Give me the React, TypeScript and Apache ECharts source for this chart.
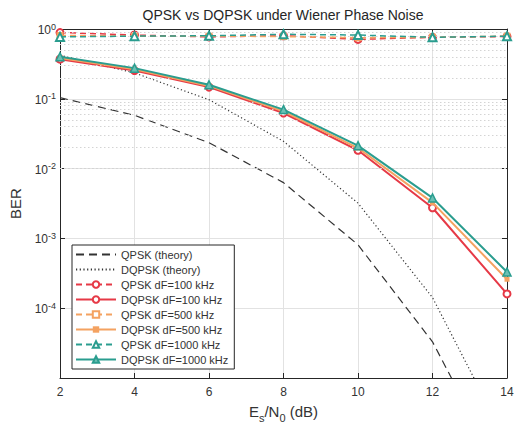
import React, { useEffect, useRef } from "react";
import * as echarts from "echarts";

const snrDb = [2, 4, 6, 8, 10, 12, 14];
const qpskTheory = [0.104, 0.058, 0.0235, 0.0063, 8.1e-4, 3.3e-5, 3e-7];
const dqpskTheory = [0.42, 0.235, 0.097, 0.0246, 3.2e-3, 1.42e-4, 1.2e-6];
const qpsk100 = [0.89, 0.82, 0.77, 0.8, 0.71, 0.76, 0.78];
const dqpsk100 = [0.37, 0.254, 0.147, 0.0626, 0.0183, 2.75e-3, 1.6e-4];
const qpsk500 = [0.81, 0.79, 0.79, 0.78, 0.75, 0.76, 0.79];
const dqpsk500 = [0.385, 0.265, 0.153, 0.066, 0.0197, 3.25e-3, 2.6e-4];
const qpsk1000 = [0.77, 0.79, 0.8, 0.84, 0.82, 0.76, 0.79];
const dqpsk1000 = [0.4, 0.275, 0.159, 0.07, 0.0213, 3.8e-3, 3.3e-4];

const legendNames = [
  "QPSK (theory)",
  "DQPSK (theory)",
  "QPSK dF=100 kHz",
  "DQPSK dF=100 kHz",
  "QPSK dF=500 kHz",
  "DQPSK dF=500 kHz",
  "QPSK dF=1000 kHz",
  "DQPSK dF=1000 kHz",
];

const RED = "#E63946";
const ORANGE = "#F4A261";
const TEAL = "#2A9D8F";
const FONT = "Liberation Sans";

const pairs = (ys: number[]) => snrDb.map((x, i) => [x, ys[i]]);

const minorGrid: number[] = [];
for (let k = -5; k <= -1; k++) {
  for (let m = 2; m <= 9; m++) minorGrid.push(m * Math.pow(10, k));
}

export default function App() {
  const ref = useRef<HTMLDivElement>(null);
  useEffect(() => {
    if (!ref.current) return;
    const chart = echarts.init(ref.current, undefined, { renderer: "svg" });
    const axisColor = "#262626";
    const labelColor = "#333";
    const supRich = {
      b: { fontSize: 12, fontFamily: FONT, color: labelColor, lineHeight: 14, verticalAlign: "bottom", padding: [5, 0, 0, 0] },
      p: { fontSize: 9, fontFamily: FONT, color: labelColor, lineHeight: 9, verticalAlign: "top" },
    };
    chart.setOption({
      animation: false,
      backgroundColor: "#fff",
      graphic: [
        {
          type: "text",
          x: 283,
          y: 15,
          style: {
            text: "QPSK vs DQPSK under Wiener Phase Noise",
            fontSize: 14,
            fontFamily: FONT,
            fill: "#262626",
            textAlign: "center",
            textVerticalAlign: "middle",
          },
        },
      ],
      grid: { left: 60, top: 29, right: 16, bottom: 58, show: false },
      legend: {
        data: legendNames.map((n, i) =>
          i < 2 ? { name: n, itemStyle: { opacity: 0 } } : { name: n }
        ),
        orient: "vertical",
        left: 72,
        top: 245,
        backgroundColor: "#fff",
        borderColor: axisColor,
        borderWidth: 1,
        borderRadius: 0,
        padding: [3, 6, 3, 3],
        itemWidth: 40,
        itemHeight: 8,
        itemGap: 2,
        textStyle: { fontSize: 11, fontFamily: FONT, color: labelColor, lineHeight: 13 },
      },
      xAxis: [
        {
          type: "value",
          min: 2,
          max: 14,
          interval: 2,
          name: "{b|E}{s|s}{b|/N}{s|0}{b| (dB)}",
          nameLocation: "middle",
          nameGap: 26,
          nameTextStyle: {
            rich: {
              b: { fontSize: 15, fontFamily: FONT, color: labelColor, lineHeight: 17, verticalAlign: "top" },
              s: { fontSize: 11, fontFamily: FONT, color: labelColor, lineHeight: 11, verticalAlign: "top", padding: [8, 0, 0, 0] },
            },
          },
          axisLine: { lineStyle: { color: axisColor, width: 1 } },
          axisTick: { inside: true, length: 5, lineStyle: { color: axisColor } },
          axisLabel: { fontSize: 12, fontFamily: FONT, color: labelColor, margin: 8 },
          splitLine: { show: true, lineStyle: { color: "#e2e2e2", width: 1 } },
        },
        {
          type: "value",
          position: "top",
          min: 2,
          max: 14,
          interval: 2,
          axisLine: { show: true, lineStyle: { color: axisColor, width: 1 } },
          axisTick: { inside: true, length: 5, lineStyle: { color: axisColor } },
          axisLabel: { show: false },
          splitLine: { show: false },
        },
      ],
      yAxis: [
        {
          type: "log",
          logBase: 10,
          min: 1e-5,
          max: 1,
          name: "BER",
          nameLocation: "middle",
          nameGap: 37,
          nameTextStyle: { fontSize: 15, fontFamily: FONT, color: labelColor },
          axisLine: { show: true, lineStyle: { color: axisColor, width: 1 } },
          axisTick: { inside: true, length: 5, lineStyle: { color: axisColor } },
          axisLabel: {
            showMinLabel: false,
            margin: 4,
            formatter: (v: number) => "{b|10}{p|" + Math.round(Math.log10(v)) + "}",
            rich: supRich,
          },
          splitLine: { show: true, lineStyle: { color: "#e2e2e2", width: 1 } },
        },
        {
          type: "log",
          logBase: 10,
          min: 1e-5,
          max: 1,
          position: "right",
          axisLine: { show: true, lineStyle: { color: axisColor, width: 1 } },
          axisTick: { inside: true, length: 5, lineStyle: { color: axisColor } },
          axisLabel: { show: false },
          splitLine: { show: false },
        },
      ],
      series: [
        {
          name: "minor-grid",
          type: "line",
          data: [],
          silent: true,
          z: 1,
          markLine: {
            silent: true,
            symbol: ["none", "none"],
            label: { show: false },
            animation: false,
            lineStyle: { color: "#d4d4d4", type: [1.5, 2.5], width: 1 },
            data: minorGrid.map((v) => ({ yAxis: v })),
          },
        },
        {
          name: legendNames[0],
          type: "line",
          data: pairs(qpskTheory),
          symbol: "none",
          color: "#333",
          lineStyle: { color: "#333", width: 1.2, type: [8, 5] },
          z: 3,
        },
        {
          name: legendNames[1],
          type: "line",
          data: pairs(dqpskTheory),
          symbol: "none",
          color: "#333",
          lineStyle: { color: "#333", width: 1.2, type: [1.2, 2.5] },
          z: 3,
        },
        {
          name: legendNames[2],
          type: "line",
          data: pairs(qpsk100),
          symbol: "emptyCircle",
          symbolSize: 7,
          color: RED,
          itemStyle: { color: RED, borderWidth: 1.5 },
          lineStyle: { color: RED, width: 1.5, type: [6, 4] },
          z: 4,
        },
        {
          name: legendNames[3],
          type: "line",
          data: pairs(dqpsk100),
          symbol: "emptyCircle",
          symbolSize: 7,
          color: RED,
          itemStyle: { color: RED, borderWidth: 1.5 },
          lineStyle: { color: RED, width: 2 },
          z: 4,
        },
        {
          name: legendNames[4],
          type: "line",
          data: pairs(qpsk500),
          symbol: "emptyRect",
          symbolSize: 5,
          color: ORANGE,
          itemStyle: { color: ORANGE, borderWidth: 1.5 },
          lineStyle: { color: ORANGE, width: 1.5, type: [6, 4] },
          z: 5,
        },
        {
          name: legendNames[5],
          type: "line",
          data: pairs(dqpsk500),
          symbol: "rect",
          symbolSize: 5,
          color: ORANGE,
          itemStyle: { color: ORANGE },
          lineStyle: { color: ORANGE, width: 2 },
          z: 5,
        },
        {
          name: legendNames[6],
          type: "line",
          data: pairs(qpsk1000),
          symbol: "emptyTriangle",
          symbolSize: 8,
          color: TEAL,
          itemStyle: { color: TEAL, borderWidth: 1.5 },
          lineStyle: { color: TEAL, width: 1.5, type: [6, 4] },
          z: 6,
        },
        {
          name: legendNames[7],
          type: "line",
          data: pairs(dqpsk1000),
          symbol: "triangle",
          symbolSize: 8,
          color: TEAL,
          itemStyle: { color: "#6cc0b4", borderColor: TEAL, borderWidth: 1.5 },
          lineStyle: { color: TEAL, width: 2 },
          z: 6,
        },
      ],
    });
    return () => chart.dispose();
  }, []);
  return (
    <div
      ref={ref}
      style={{ position: "fixed", left: 0, top: 0, width: 523, height: 436, background: "#fff" }}
    />
  );
}
